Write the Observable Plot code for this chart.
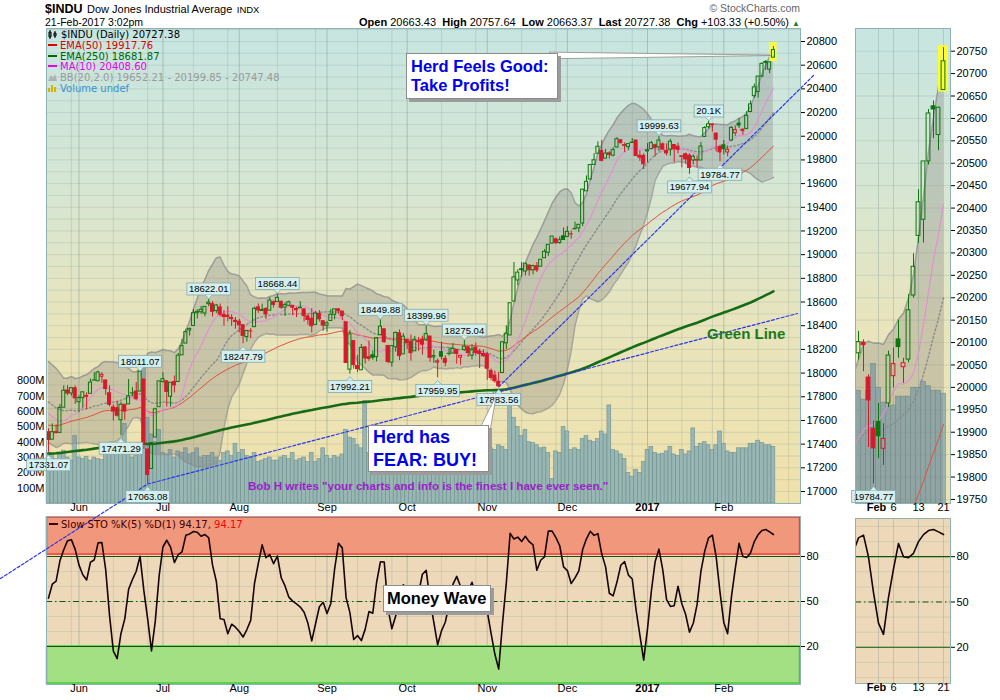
<!DOCTYPE html>
<html><head><meta charset="utf-8">
<script src="https://cdn.jsdelivr.net/npm/d3@7"></script>
<script src="https://cdn.jsdelivr.net/npm/@observablehq/plot@0.6"></script>
<style>
body{margin:0;background:#fff;}
#chart{position:relative;width:1000px;height:700px;overflow:hidden;font-family:"Liberation Sans",Arial,sans-serif;color:#000;}
.abs{position:absolute;white-space:nowrap;}
.bg{position:absolute;background:linear-gradient(to bottom,#c7e5e1 0%,#d6e6d3 33%,#e8e4bd 62%,#f0e1ab 100%);}
#plots{position:absolute;left:0;top:0;width:1000px;height:700px;}
.legend{position:absolute;font:10px "DejaVu Sans",sans-serif;line-height:10.8px;white-space:nowrap;}
.legend i{display:inline-block;width:9px;height:2px;margin-right:3px;vertical-align:3px;}
.callout{position:absolute;background:#fff;border:1px solid #8c8c8c;box-shadow:3px 3px 0 #9c9c9c;font-family:"Liberation Sans",Arial,sans-serif;font-weight:bold;white-space:nowrap;box-sizing:border-box;}
</style></head>
<body>
<div id="chart">
  <div class="abs" style="left:45px;top:0px;line-height:16px;"><span style="font:bold 12.5px 'Liberation Sans',Arial">$INDU</span> <span style="font:11px 'Liberation Sans',Arial">Dow Jones Industrial Average</span> <span style="font:9.5px 'Liberation Sans',Arial">INDX</span></div>
  <div class="abs" style="left:45px;top:16px;font-size:10.5px;line-height:13px;">21-Feb-2017 3:02pm</div>
  <div class="abs" style="left:600px;width:200px;top:2px;text-align:right;font-size:10.5px;line-height:13px;color:#666;">© StockCharts.com</div>
  <div class="abs" style="left:300px;width:500px;top:15px;text-align:right;font-size:11px;line-height:14px;"><b>Open</b> 20663.43 &nbsp;<b>High</b> 20757.64 &nbsp;<b>Low</b> 20663.37 &nbsp;<b>Last</b> 20727.38 &nbsp;<b>Chg</b> +103.33 (+0.50%) <span style="color:#2d7a2d;font-size:8px;">▲</span></div>
  <div class="bg" style="left:46px;top:28px;width:754px;height:475px;"></div>
  <div class="bg" style="left:855px;top:28px;width:95px;height:475px;"></div>
  <div id="plots"></div>
  <div class="legend" style="left:48px;top:30px;">
    <div><svg width="10" height="9" style="margin-right:3px;vertical-align:-1px"><path d="M2 0V9M1 2h2v5H1zM7 1V8M6 3h2v3H6z" stroke="#000" fill="none" stroke-width="1"/></svg>$INDU (Daily) 20727.38</div>
    <div style="color:#e00000"><i style="background:#e00000"></i>EMA(50) 19917.76</div>
    <div style="color:#006400"><i style="background:#006400"></i>EMA(250) 18681.87</div>
    <div style="color:#e600e6"><i style="background:#e600e6"></i>MA(10) 20408.60</div>
    <div style="color:#9a9a9a"><svg width="9" height="8" style="margin-right:3px"><path d="M0 8L3 2L5 5L7 1L9 8Z" fill="#b0b0b0"/></svg>BB(20,2.0) 19652.21 - 20199.85 - 20747.48</div>
    <div style="color:#3a8fd0"><svg width="9" height="8" style="margin-right:3px"><path d="M1 8V4M4 8V1M7 8V3" stroke="#d8b000" stroke-width="2"/></svg>Volume undef</div>
  </div>
  <div class="legend" style="left:49px;top:520px;color:#3a0000;"><i style="background:#3a0000;height:2px"></i>Slow STO %K(5) %D(1) 94.17, <span style="color:#ff0000">94.17</span></div>
  <div class="callout" style="left:406px;top:53px;width:152px;height:46px;padding:3px 0 0 4px;font-size:16.5px;line-height:18.5px;color:#0000ee;">Herd Feels Good:<br>Take Profits!</div>
  <div class="callout" style="left:368px;top:425px;width:121px;height:47px;padding:0 0 0 4px;font-size:18px;line-height:23px;color:#0000ee;">Herd has<br>FEAR: BUY!</div>
  <div class="callout" style="left:383px;top:585px;width:108px;height:27px;padding:2px 0 0 3px;font-size:16.5px;line-height:20px;color:#000;">Money Wave</div>
  <div class="abs" style="left:707px;top:325px;font-weight:bold;font-size:15px;color:#1a7a1a;">Green Line</div>
  <div class="abs" style="left:248px;top:479px;font-weight:bold;font-size:11.6px;color:#9b1ec9;">Bob H writes "your charts and info is the finest I have ever seen."</div>
</div>
<script>
// ---------------- DATA ----------------
const firstDay = "2016-05-19", lastDay = "2017-02-21", axisEnd = "2017-03-01";
const holidays = ["2016-05-30","2016-07-04","2016-09-05","2016-11-24","2016-12-26","2017-01-02","2017-01-16","2017-02-20"];

// closes of the 20 sessions before the first bar (indicator warm-up only)
const priorCloses = [17982,18003,17977,17990,18041,17830,17773,17891,17750,17651,17660,17740,17705,17928,17711,17721,17535,17710,17530,17526];

const opens = [
 17500,17437,17501,17495,17708,17853,17828,17872,
 17754,17789,17799,17825,17936,17931,17969,17938,17830,17710,17703,17602,17733,17736,17827,17844,17844,17946,17355,17190,17456,17712,
 17924,17931,17800,17925,17925,18150,18249,18360,18398,18505,18514,18503,18582,18582,18524,18554,18492,18485,18465,18442,
 18434,18404,18304,18352,18388,18555,18524,18541,18527,18599,18600,18603,18553,18568,18568,18541,18552,18538,18478,18459,18407,18499,18438,
 18400,18440,18492,18538,18520,18429,18029,18271,18061,18024,18217,18134,18150,18135,18320,18370,18229,18088,18218,18336,18158,
 18282,18263,18184,18260,18283,18282,18309,18132,18089,18177,18120,18163,18165,18196,18130,18194,18218,18146,18215,18182,18161,
 18158,18017,17978,17925,18001,18251,18318,18604,18782,18877,18858,18909,18868,18902,18898,18970,19016,19093,19130,19098,19155,
 19149,19172,19214,19222,19263,19535,19634,19758,19852,19876,19811,19856,19836,19905,19966,19925,19908,19943,19964,19835,19834,
 19872,19891,19924,19906,19931,19876,19887,19926,19912,19831,19848,19837,19795,19794,19795,19994,20076,20100,20022,19908,
 19923,19863,19964,20025,20107,20045,20062,20205,20338,20374,20504,20627,20563,20663.43];
const highs = [
 17530,17571,17563,17734,17891,17893,17874,17891,
 17809,17838,17833,17949,18003,18016,18005,17938,17893,17733,17762,17754,17733,17946,17877,17920,18011.07,17946,17355,17409,17704,17930,
 18003,17931,17921,17975,18166,18283,18371,18380,18537,18535,18563,18562,18622.01,18604,18580,18583,18528,18559,18493,18470,
 18454,18404,18362,18376,18557,18584,18582,18553,18639,18610,18668.44,18603,18594,18608,18568,18555,18603,18539,18497,18544,18520,18528,18438,
 18436,18537,18539,18545,18520,18429,18358,18271,18150,18241,18217,18271,18188,18300,18449.88,18370,18229,18229,18347,18364,18333,
 18282,18321,18310,18301,18311,18399.96,18309,18193,18120,18261,18146,18214,18249,18196,18145,18275.04,18218,18240,18255,18202,18196,
 18172,18035,18016,18007,18263,18400,18590,18934,18872,18934,18925,18909,18911,18934,18957,19043,19085,19153,19141,19151,19225,
 19236,19199,19275,19252,19550,19665,19757,19853,19953,19966,19888,19869,19902,19988,19971,19944,19935,19981,19964,19878,19852,
 19938,19956,19933,19999.63,19944,19936,19973,19926,19942,19831,19858,19852,19843,19833,19949,20082,20125,20106,20028,19925,
 19964,19919,20081,20088,20150,20065,20207,20298,20441,20504,20620,20639,20625,20757.64];
const lows = [
 17331.07,17437,17486,17495,17708,17809,17805,17735,
 17665,17703,17689,17825,17936,17931,17915,17812,17715,17595,17629,17471.29,17602,17736,17799,17770,17844,17356,17063.08,17190,17456,17711,
 17916,17713,17713,17832,17925,18150,18249,18313,18398,18457,18497,18475,18559,18473,18504,18474,18395,18434,18395,18371,
 18341,18247.79,18262,18290,18388,18504,18524,18452,18527,18549,18600,18537,18480,18561,18484,18468,18547,18432,18404,18339,18407,18432,18354,
 18346,18440,18450,18498,18442,18085,17992.21,18033,18004,18024,18076,18100,18109,18095,18320,18252,18079,18050,18176,18105,18158,
 18200,18100,18184,18184,18151,18268,18090,18083,17959.95,18112,18053,18144,18165,18076,18065,18184,18132,18110,18144,18038,18134,
 17939,17935,17914,17883.56,18001,18198,18318,18604,18736,18808,18820,18819,18830,18849,18898,18970,18986,19093,19084,19088,19121,
 19149,19131,19214,19185,19236,19535,19634,19758,19852,19784,19811,19808,19826,19903,19935,19862,19881,19939,19833,19788,19719,
 19776,19891,19826,19870,19887,19835,19832,19777,19851,19733,19763,19677.94,19759,19732,19795,19994,20061,20035,19866,19784.77,
 19841,19826,19955,19999,20065,20009,20055,20199,20321,20322,20496,20555,20528,20663.37];
const closes = [
 17435,17501,17493,17706,17851,17828,17873,17787,
 17789,17838,17807,17920,17938,18005,17985,17865,17732,17675,17640,17733,17675,17804,17829,17780,18011,17400,17140,17409,17694,17930,
 17949,17841,17918,17896,18147,18227,18347,18373,18506,18517,18534,18559,18595,18517,18571,18493,18474,18473,18456,18432,
 18404,18314,18355,18353,18543,18529,18533,18495,18613,18576,18636,18552,18574,18598,18552,18530,18547,18481,18448,18395,18503,18454,18401,
 18420,18492,18538,18526,18480,18085,18326,18067,18034,18212,18124,18120,18130,18294,18392,18261,18094,18228,18339,18143,18308,
 18254,18168,18281,18269,18240,18329,18129,18144,18099,18138,18087,18162,18203,18162,18145,18223,18169,18199,18170,18161,18142,
 18037,17959,17931,17888,18260,18333,18590,18808,18848,18869,18924,18868,18904,18868,18957,19024,19083,19153,19098,19122,19124,
 19192,19171,19217,19252,19549,19615,19757,19797,19911,19792,19853,19843,19883,19975,19942,19919,19934,19946,19833,19819,19763,
 19882,19942,19900,19964,19887,19855,19954,19891,19886,19826,19804,19732,19827,19799,19913,20069,20101,20094,19971,19864,
 19891,19885,20071,20052,20090,20054,20172,20269,20413,20504,20611,20620,20624,20727.38];
// volume, millions of shares
const volumes = [
 330,320,290,330,345,300,280,440,
 300,290,305,280,300,290,285,330,340,330,325,360,520,330,300,310,380,930,560,450,400,480,
 330,320,350,300,340,330,360,320,330,360,300,310,310,330,300,280,330,340,310,390,
 330,350,310,300,330,270,280,290,300,280,280,300,310,290,330,280,290,300,270,330,270,290,360,
 310,290,310,300,320,480,430,420,380,360,670,330,320,390,340,330,350,360,370,420,500,
 330,360,340,320,350,290,370,330,360,350,320,340,330,320,400,320,330,350,340,360,380,
 380,360,350,380,370,350,700,560,500,440,480,400,395,380,360,365,330,160,340,330,500,
 470,350,360,350,420,440,410,400,420,470,450,640,350,340,320,290,200,175,220,200,270,
 350,370,330,320,325,340,370,320,310,350,320,340,490,370,390,400,380,350,380,470,
 390,340,330,330,360,360,360,390,390,410,395,380,380,370];
const ema50Start = 17560, ema250Start = 17320;   // indicator values on the first bar

const monthLabels = ["Jun","Jul","Aug","Sep","Oct","Nov","Dec","2017","Feb"];
const priceTicks = d3.range(17000, 20801, 200);
const volumeTicks = [100,200,300,400,500,600,700,800];
const stochTicks = [20,50,80];
const miniPriceTicks = d3.range(19750, 20751, 50);
const miniTickDates = ["2017-02-01","2017-02-06","2017-02-13","2017-02-21"];
const miniTickLabels = ["Feb","6","13","21"];
const gridDaysOfMonth = [1,14,27];

const valueLabels = [
 {date:"2016-05-19",kind:"low",text:"17331.07"},{date:"2016-06-16",kind:"low",text:"17471.29"},
 {date:"2016-06-23",kind:"high",text:"18011.07"},{date:"2016-06-27",kind:"low",text:"17063.08"},
 {date:"2016-07-20",kind:"high",text:"18622.01"},{date:"2016-08-02",kind:"low",text:"18247.79"},
 {date:"2016-08-15",kind:"high",text:"18668.44"},{date:"2016-09-12",kind:"low",text:"17992.21"},
 {date:"2016-09-22",kind:"high",text:"18449.88"},{date:"2016-10-10",kind:"high",text:"18399.96"},
 {date:"2016-10-13",kind:"low",text:"17959.95"},{date:"2016-10-24",kind:"high",text:"18275.04"},
 {date:"2016-11-04",kind:"low",text:"17883.56"},{date:"2017-01-06",kind:"high",text:"19999.63"},
 {date:"2017-01-19",kind:"low",text:"19677.94"},{date:"2017-01-26",kind:"high",text:"20.1K"},
 {date:"2017-01-31",kind:"low",text:"19784.77"}];
const miniValueLabels = [{date:"2017-01-31",kind:"low",text:"19784.77"}];

// trend lines (bar index, price)
const trendLines = [
 [{i:-12.6,p:16265},{i:26,p:17063.08}],
 [{i:26,p:17063.08},{i:196.3,p:18503}],
 [{i:118,p:17883.56},{i:200.5,p:20513}]];
// callout pointers
const profitPointer = [{i:131.6,lo:20650,hi:20706},{i:189.3,lo:20677,hi:20681}];
const fearPointer = [{p:17515,i1:113.0,i2:115.9},{p:17790,i1:117.2,i2:117.4}];
// stochastic zones
const stochZones = [{from:81.3,to:106,fill:"#f1977c",stroke:"#f03c3c"},{from:-4.7,to:20,fill:"#a2e083",stroke:"#3ccc3c"}];

// ---------------- BUILD ----------------
const UP = "#0b760b", DOWN = "#d8192a";
const parse = d3.utcParse("%Y-%m-%d"), fmt = d3.utcFormat("%Y-%m-%d");
const tradingDays = (a, b) => d3.utcDay.range(parse(a), d3.utcDay.offset(parse(b), 1))
  .filter(d => d.getUTCDay() % 6 !== 0 && !holidays.includes(fmt(d)));
const axisDates = tradingDays(firstDay, axisEnd);
const dates = tradingDays(firstDay, lastDay);
const idxOf = s => axisDates.findIndex(d => fmt(d) === s);

const bars = dates.map((d, i) => {
  const prev = i ? closes[i-1] : priorCloses[priorCloses.length-1];
  return {i, date: d, o: opens[i], h: highs[i], l: lows[i], c: closes[i], v: volumes[i],
          col: closes[i] >= prev ? UP : DOWN, hollow: closes[i] > opens[i]};
});
const allC = priorCloses.concat(closes), off = priorCloses.length;
let e50 = ema50Start, e250 = ema250Start;
const ind = bars.map((b, i) => {
  if (i) { e50 += (2/51)*(b.c - e50); e250 += (2/251)*(b.c - e250); }
  const w10 = allC.slice(off+i-9, off+i+1), w20 = allC.slice(off+i-19, off+i+1);
  const m = d3.mean(w20), sd = Math.sqrt(d3.mean(w20, x => (x-m)**2));
  return {i, ma10: d3.mean(w10), mid: m, up: m + 2*sd, lo: m - 2*sd, ema50: e50, ema250: e250};
});
const fast = bars.map((b, i) => {
  const w = bars.slice(Math.max(0, i-4), i+1);
  const ll = d3.min(w, d => d.l), hh = d3.max(w, d => d.h);
  return 100*(b.c - ll)/(hh - ll);
});
const stoch = bars.map((b, i) => ({i, k: d3.mean(fast.slice(Math.max(0, i-2), i+1))}));

const monthStarts = axisDates.map((d, i) => ({d, i}))
  .filter(({d, i}) => i > 0 && i < dates.length && d.getUTCMonth() !== axisDates[i-1].getUTCMonth())
  .map((m, k) => ({i: m.i, label: monthLabels[k], bold: monthLabels[k] === "2017"}));
const gridIdx = [];
{
  const months = d3.utcMonth.range(d3.utcMonth.floor(axisDates[0]), axisDates[axisDates.length-1]);
  for (const m of months) for (const day of gridDaysOfMonth) {
    const t = Date.UTC(m.getUTCFullYear(), m.getUTCMonth(), day);
    if (t < +axisDates[0]) continue;
    const i = axisDates.findIndex(d => +d >= t);
    if (i > 0 && !gridIdx.some(g => g.i === i)) gridIdx.push({i, month: day === 1});
  }
}
const labelRows = (arr) => arr.map(l => {
  const i = idxOf(l.date);
  return {i, p: l.kind === "high" ? highs[i] : lows[i], kind: l.kind, text: l.text};
});
const vLabels = labelRows(valueLabels), mLabels = labelRows(miniValueLabels);
const trendPts = trendLines.flatMap((t, k) => t.map(p => ({...p, id: k})));

const STYLE = "position:absolute;left:0;top:0;background:transparent;overflow:visible;max-width:none;font-family:'Liberation Sans',Arial,sans-serif;font-size:11px;color:#000;";
const xDomain = [-0.52, 197.1];
const priceDomain = [16898.7, 20909.8];
const main = {width: 860, height: 600, marginLeft: 46, marginRight: 60, marginTop: 28, marginBottom: 97};
const mini = {width: 1000, height: 600, marginLeft: 855, marginRight: 50, marginTop: 28, marginBottom: 97};
const miniX = [172.4, 191.4];
const miniDomain = [19741, 20800.6];
const GRID = "#6e8f88";

function candleMarks(data, hw, clip) {
  return [
    Plot.ruleX(data, {x: "i", y1: "h", y2: d => Math.max(d.o, d.c), stroke: "col", clip}),
    Plot.ruleX(data, {x: "i", y1: "l", y2: d => Math.min(d.o, d.c), stroke: "col", clip}),
    Plot.rect(data, {x1: d => d.i - hw, x2: d => d.i + hw, y1: "o", y2: "c",
      fill: d => d.hollow ? "none" : d.col, stroke: "col", strokeWidth: 1, clip})
  ];
}
function labelMarks(rows, fs) {
  const hi = rows.filter(r => r.kind === "high"), lo = rows.filter(r => r.kind === "low");
  const o = {x: "i", y: "p", text: "text", fontSize: fs, fill: "#000"};
  return [
    Plot.text(hi, {...o, dy: -10, ariaDescription: "vlabel-high"}),
    Plot.text(lo, {...o, dy: 13, ariaDescription: "vlabel-low"})
  ];
}
function indicatorMarks(clip) {
  return [
    Plot.areaY(ind, {x: "i", y1: "lo", y2: "up", fill: "#7d7d7d", fillOpacity: 0.3, clip}),
    Plot.line(ind, {x: "i", y: "up", stroke: "#8c8c8c", strokeOpacity: 0.7, clip}),
    Plot.line(ind, {x: "i", y: "lo", stroke: "#8c8c8c", strokeOpacity: 0.7, clip}),
    Plot.line(ind, {x: "i", y: "mid", stroke: "#8d8d8d", strokeDasharray: "1.5,2.5", clip}),
    Plot.line(ind, {x: "i", y: "ema50", stroke: "#e4503c", strokeWidth: 1, clip}),
    Plot.line(ind, {x: "i", y: "ma10", stroke: "#e58cd6", strokeWidth: 1.1, clip})
  ];
}
const monthText = (frameDy) => [
  Plot.text(monthStarts.filter(m => !m.bold), {x: "i", text: "label", frameAnchor: "bottom", dy: frameDy, fontSize: 11}),
  Plot.text(monthStarts.filter(m => m.bold), {x: "i", text: "label", frameAnchor: "bottom", dy: frameDy, fontSize: 11, fontWeight: "bold"})
];
const miniTicks = miniTickDates.map((d, k) => ({i: idxOf(d), label: miniTickLabels[k], bold: k === 0}));
const miniText = (frameDy) => [
  Plot.text(miniTicks.filter(m => !m.bold), {x: "i", text: "label", frameAnchor: "bottom", dy: frameDy, fontSize: 11}),
  Plot.text(miniTicks.filter(m => m.bold), {x: "i", text: "label", frameAnchor: "bottom", dy: frameDy, fontSize: 11, fontWeight: "bold", dx: -2})
];

const plots = [];
// stochastic panel
plots.push(Plot.plot({
  width: 860, height: 700, marginLeft: 46, marginRight: 60, marginTop: 516, marginBottom: 16, style: STYLE,
  x: {domain: xDomain, axis: null},
  y: {domain: [-5.33, 106.67], axis: "right", ticks: stochTicks, tickSize: 4, tickPadding: 2, label: null},
  marks: [
    Plot.frame({fill: "#edd9b9"}),
    Plot.ruleY(d3.range(0, 101, 10), {stroke: GRID, strokeOpacity: 0.18}),
    Plot.ruleX(gridIdx, {x: "i", stroke: GRID, strokeOpacity: d => d.month ? 0.4 : 0.2}),
    Plot.rect(stochZones, {x1: () => xDomain[0], x2: () => xDomain[1], y1: "from", y2: "to", fill: "fill", stroke: "stroke", strokeWidth: 1.5, insetLeft: 0.5, insetRight: 0.5}),
    Plot.ruleY([80, 20], {stroke: "#0b5a0b", strokeWidth: 1.2}),
    Plot.ruleY([50], {stroke: "#0b5a0b", strokeDasharray: "6,3,1.5,3"}),
    Plot.line(stoch, {x: "i", y: "k", stroke: "#160404", strokeWidth: 1.6}),
    Plot.frame({stroke: "#8eb2b2"}),
    ...monthText(7)
  ],
  color: {type: "identity"}
}));
// main grid
plots.push(Plot.plot({
  ...main, style: STYLE, x: {domain: xDomain, axis: null}, y: {domain: priceDomain, axis: null},
  marks: [
    Plot.ruleY(d3.range(16900, 20901, 100), {stroke: GRID, strokeOpacity: 0.2}),
    Plot.ruleX(gridIdx, {x: "i", stroke: GRID, strokeOpacity: d => d.month ? 0.42 : 0.22})
  ]
}));
// main volume
plots.push(Plot.plot({
  ...main, style: STYLE, x: {domain: xDomain, axis: null},
  y: {domain: [0, 3100], axis: "left", ticks: volumeTicks, tickFormat: d => d + "M", tickSize: 0, tickPadding: 2, label: null},
  marks: [
    Plot.rect(bars, {x1: d => d.i - 0.5, x2: d => d.i + 0.5, y1: () => 0, y2: "v", fill: "#98b6b3", stroke: "#6f918e", strokeWidth: 0.6})
  ]
}));
// main price
plots.push(Plot.plot({
  ...main, style: STYLE, x: {domain: xDomain, axis: null},
  y: {domain: priceDomain, axis: "right", ticks: priceTicks, tickFormat: d => String(d), tickSize: 4, tickPadding: 2, label: null},
  color: {type: "identity"},
  marks: [
    ...indicatorMarks(false),
    Plot.line(ind, {x: "i", y: "ema250", stroke: "#176b17", strokeWidth: 2.6}),
    Plot.line(trendPts, {x: "i", y: "p", z: "id", stroke: "#2b35f0", strokeWidth: 1.2, strokeDasharray: "3,2"}),
    Plot.rect(bars.slice(-1), {x1: d => d.i - 0.95, x2: d => d.i + 0.95, y1: "l", y2: "h", fill: "#fbfb3c", insetTop: -4, insetBottom: -4}),
    ...candleMarks(bars, 0.4, false),
    ...labelMarks(vLabels, 9.5),
    Plot.areaY(profitPointer, {x: "i", y1: "lo", y2: "hi", fill: "#fff", stroke: "#8c8c8c", strokeWidth: 0.8}),
    Plot.areaX(fearPointer, {y: "p", x1: "i1", x2: "i2", fill: "#fff", stroke: "#8c8c8c", strokeWidth: 0.8}),
    Plot.frame({stroke: "#8eb2b2"}),
    ...monthText(7)
  ]
}));
// mini stochastic
plots.push(Plot.plot({
  width: 1000, height: 700, marginLeft: 855, marginRight: 50, marginTop: 518, marginBottom: 17, style: STYLE,
  x: {domain: miniX, axis: null},
  y: {domain: [-4, 105.3], axis: "right", ticks: stochTicks, tickSize: 4, tickPadding: 2, label: null},
  marks: [
    Plot.frame({fill: "#edd9b9"}),
    Plot.ruleY(d3.range(0, 101, 10), {stroke: GRID, strokeOpacity: 0.18}),
    Plot.ruleX(miniTicks, {x: "i", stroke: GRID, strokeOpacity: 0.3}),
    Plot.ruleY([80, 20], {stroke: "#0b5a0b", strokeWidth: 1.2}),
    Plot.ruleY([50], {stroke: "#0b5a0b", strokeDasharray: "6,3,1.5,3"}),
    Plot.line(stoch, {x: "i", y: "k", stroke: "#160404", strokeWidth: 1.6, clip: true}),
    Plot.frame({stroke: "#8eb2b2"}),
    ...miniText(7)
  ]
}));
// mini grid + volume
plots.push(Plot.plot({
  ...mini, style: STYLE, x: {domain: miniX, axis: null}, y: {domain: [0, 1600], axis: null},
  marks: [
    Plot.ruleX(miniTicks, {x: "i", stroke: GRID, strokeOpacity: 0.3}),
    Plot.rect(bars, {x1: d => d.i - 0.5, x2: d => d.i + 0.5, y1: () => 0, y2: "v", fill: "#98b6b3", stroke: "#6f918e", strokeWidth: 0.6, clip: true})
  ]
}));
// mini price
plots.push(Plot.plot({
  ...mini, style: STYLE, x: {domain: miniX, axis: null},
  y: {domain: miniDomain, axis: "right", ticks: miniPriceTicks, tickFormat: d => String(d), tickSize: 4, tickPadding: 2, label: null},
  color: {type: "identity"},
  marks: [
    Plot.ruleY(miniPriceTicks, {stroke: GRID, strokeOpacity: 0.2}),
    ...indicatorMarks(true),
    Plot.rect(bars.slice(-1), {x1: d => d.i - 1, x2: d => d.i + 1, y1: "l", y2: "h", fill: "#fbfb3c", insetTop: -2, insetBottom: -2}),
    ...candleMarks(bars, 0.38, true),
    ...labelMarks(mLabels, 9.5),
    Plot.frame({stroke: "#8eb2b2"}),
    ...miniText(7)
  ]
}));

const holder = document.getElementById("plots");
for (const p of plots) holder.appendChild(p);

// boxes and pointers behind / beside the value labels
const NS = "http://www.w3.org/2000/svg";
for (const kind of ["high", "low"]) {
  document.querySelectorAll(`g[aria-description="vlabel-${kind}"] text`).forEach(t => {
    const b = t.getBBox();
    const tr = t.getAttribute("transform");
    const x0 = b.x - 2, y0 = b.y - 0.5, w = b.width + 4, h = b.height + 1, cx = b.x + b.width / 2;
    const r = document.createElementNS(NS, "rect");
    r.setAttribute("x", x0); r.setAttribute("y", y0); r.setAttribute("width", w); r.setAttribute("height", h);
    r.setAttribute("fill", "#d4efef"); r.setAttribute("stroke", "#86a8a8"); r.setAttribute("stroke-width", "0.8");
    const p = document.createElementNS(NS, "path");
    const edge = kind === "high" ? y0 + h : y0, tip = kind === "high" ? edge + 4 : edge - 4;
    p.setAttribute("d", `M${cx - 3.5},${edge}L${cx},${tip}L${cx + 3.5},${edge}`);
    p.setAttribute("fill", "#d4efef"); p.setAttribute("stroke", "#86a8a8"); p.setAttribute("stroke-width", "0.8");
    if (tr) { r.setAttribute("transform", tr); p.setAttribute("transform", tr); }
    t.parentNode.insertBefore(r, t);
    t.parentNode.insertBefore(p, t);
  });
}
</script>
</body></html>
